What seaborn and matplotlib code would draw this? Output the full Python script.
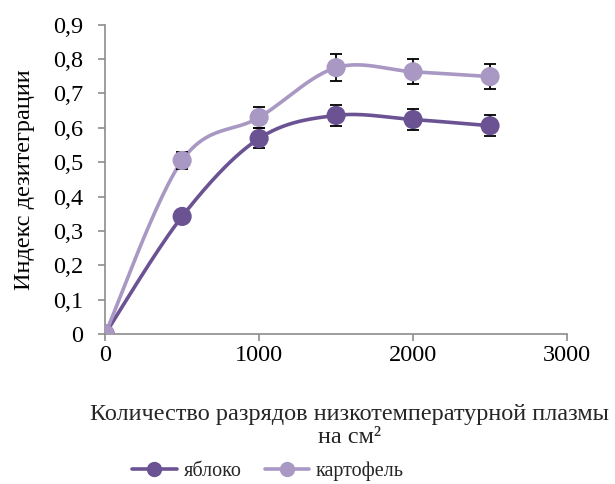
import numpy as np
import pandas as pd
import matplotlib
matplotlib.use("Agg")
import matplotlib.pyplot as plt
import seaborn as sns
from matplotlib.lines import Line2D

x_vals = [0, 500, 1000, 1500, 2000, 2500]
apple = [0.0, 0.342, 0.569, 0.636, 0.624, 0.606]
apple_err = [0.0, 0.015, 0.029, 0.030, 0.030, 0.030]
potato = [0.0, 0.505, 0.630, 0.775, 0.763, 0.749]
potato_err = [0.0, 0.025, 0.031, 0.039, 0.037, 0.037]
series_names = ["яблоко", "картофель"]
colors = ["#6B5393", "#A898C3"]
y_ticks = [0, 0.1, 0.2, 0.3, 0.4, 0.5, 0.6, 0.7, 0.8, 0.9]
x_ticks = [0, 1000, 2000, 3000]

sns.set_theme(style="white")
plt.rcParams['font.family'] = ['Liberation Serif', 'DejaVu Serif']

FS = 17.5
fig = plt.figure(figsize=(6.15, 4.84), dpi=100)
ax = fig.add_axes([0.171, 0.31, 0.751, 0.639])
ax.set_xlim(0, 3000)
ax.set_ylim(0, 0.9)

W = 0.751 * 615
H = 0.639 * 484


def smooth(xs, ys, n=30):
    # Catmull-Rom (Excel-like smoothing) in display-proportional space
    px = np.array(xs) / 3000 * W
    py = np.array(ys) / 0.9 * H
    P = np.column_stack([px, py])
    out = [P[0]]
    for i in range(len(P) - 1):
        p0 = P[i - 1] if i > 0 else P[i]
        p1 = P[i]
        p2 = P[i + 1]
        p3 = P[i + 2] if i + 2 < len(P) else P[i + 1]
        c1 = p1 + (p2 - p0) / 6
        c2 = p2 - (p3 - p1) / 6
        t = np.linspace(0, 1, n)[1:, None]
        b = ((1 - t) ** 3) * p1 + 3 * ((1 - t) ** 2) * t * c1 + 3 * (1 - t) * t ** 2 * c2 + t ** 3 * p2
        out.extend(b)
    out = np.array(out)
    return out[:, 0] / W * 3000, out[:, 1] / H * 0.9


df = pd.DataFrame({
    "x": x_vals * 2,
    "y": apple + potato,
    "err": apple_err + potato_err,
    "s": [series_names[0]] * 6 + [series_names[1]] * 6,
})

for name, ys, errs, c in [(series_names[0], apple, apple_err, colors[0]),
                          (series_names[1], potato, potato_err, colors[1])]:
    sx, sy = smooth(x_vals, ys)
    ax.plot(sx, sy, color=c, lw=2.6, solid_capstyle="round", zorder=2)

for name, ys, errs, c in [(series_names[0], apple, apple_err, colors[0]),
                          (series_names[1], potato, potato_err, colors[1])]:
    ax.errorbar(x_vals[1:], ys[1:], yerr=errs[1:], fmt="none", ecolor="black",
                elinewidth=1.3, capsize=4, capthick=1.3, zorder=3)

sns.scatterplot(data=df, x="x", y="y", hue="s", palette=colors, s=190,
                edgecolor="none", ax=ax, legend=False, zorder=4)

ax.set_xticks(x_ticks)
ax.set_xticklabels([str(v) for v in x_ticks], fontsize=FS)
ax.set_yticks(y_ticks)
ax.set_yticklabels(["0" if v == 0 else f"{v:.1f}".replace(".", ",") for v in y_ticks], fontsize=FS)
for s in ["top", "right"]:
    ax.spines[s].set_visible(False)
for s in ["left", "bottom"]:
    ax.spines[s].set_color("#8C8C8C")
    ax.spines[s].set_linewidth(1.2)
ax.tick_params(axis="both", which="both", direction="out", length=5, width=1.2,
               color="#8C8C8C", left=True, bottom=True, labelcolor="black", pad=3)
ax.tick_params(axis="y", pad=11)
ax.set_xlabel("")
ax.set_ylabel("Индекс дезитеграции", fontsize=FS, color="black", labelpad=13)

fig.text(0.569, 0.12, "Количество разрядов низкотемпературной плазмы\nна см²",
         ha="center", va="center", fontsize=FS, linespacing=1.15, multialignment="center")

handles = [Line2D([0], [0], color=c, lw=2.6, marker="o", markersize=10) for c in colors]
fig.legend(handles, series_names, loc="center", bbox_to_anchor=(0.436, 0.026),
           ncol=2, frameon=False, fontsize=14.5, handlelength=2.2, columnspacing=1.15,
           handletextpad=0.35)

fig.savefig("out.png", dpi=100)
